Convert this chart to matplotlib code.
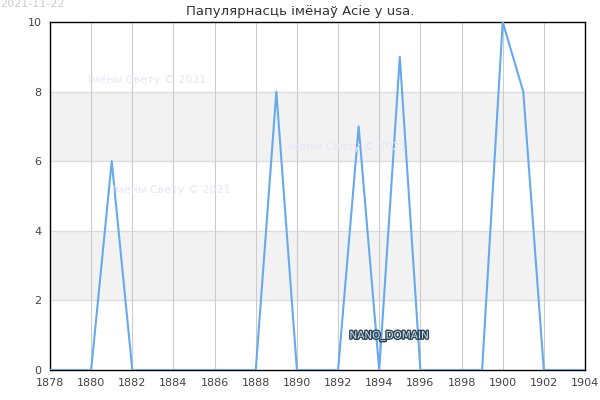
import matplotlib.pyplot as plt
import matplotlib.patheffects as pe

# dane
gady = list(range(1878, 1905))
kolkasc = [0, 0, 0, 6, 0, 0, 0, 0, 0, 0, 0, 8, 0, 0, 0, 7, 0, 9, 0, 0, 0, 0, 10, 8, 0, 0, 0]
x_ticks = list(range(1878, 1905, 2))
y_ticks = [0, 2, 4, 6, 8, 10]
titul = "Папулярнасць імёнаў Acie у usa."
data = "2021-11-22"
znak = "Імёны Свету © 2021"

fig = plt.figure(figsize=(6, 4), dpi=100)
ax = fig.add_axes([50 / 600, 1 - 370 / 400, 535 / 600, 348 / 400])

# pasy
for lo in (2, 6):
    ax.axhspan(lo, lo + 2, color='#f2f2f2', zorder=0, lw=0)
for y in y_ticks[1:-1]:
    ax.axhline(y, color='#dddddd', lw=1, zorder=1)
for x in x_ticks[1:-1]:
    ax.axvline(x, color='#cccccc', lw=0.8, zorder=1)

ax.plot(gady, kolkasc, color='#66aaee', lw=1.5, zorder=3)

ax.set_xlim(1878, 1904)
ax.set_ylim(0, 10)
ax.set_xticks(x_ticks)
ax.set_yticks(y_ticks)
ax.tick_params(length=0, labelsize=8, colors='#444444', pad=6)
for s in ax.spines.values():
    s.set_color('black')
    s.set_linewidth(1)

# vadzianyja znaki
for (fx, fy) in [(88, 80), (112, 190), (288, 147)]:
    fig.text(fx / 600, 1 - fy / 400, znak, fontsize=8, color='#e6e6fa', va='center', zorder=2)

fig.text(0.5, 1 - 11 / 400, titul, ha='center', va='center', fontsize=9.5, color='#333333')
fig.text(0.0, 1 - 4 / 400, data, ha='left', va='center', fontsize=8, color='#cccccc')

t = fig.text(389 / 600, 1 - 336 / 400, "NANO_DOMAIN", ha='center', va='center',
             fontsize=7.5, color='#cfe0ee', zorder=5)
t.set_path_effects([pe.withStroke(linewidth=2, foreground='#2a4455')])

fig.savefig('out.png', dpi=100)
